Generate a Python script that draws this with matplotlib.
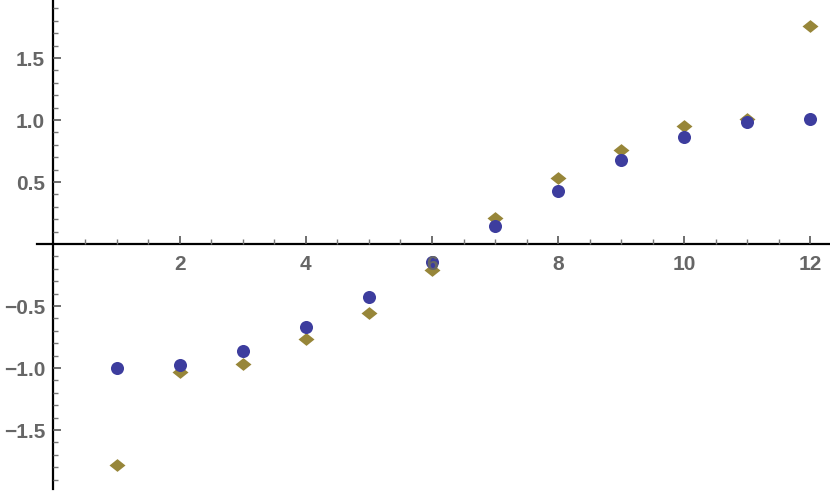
import matplotlib
matplotlib.use("Agg")
import matplotlib.pyplot as plt
from matplotlib.path import Path

# --- данные ---
x_vals = [1, 2, 3, 4, 5, 6, 7, 8, 9, 10, 11, 12]
circle_vals = [-0.997, -0.976, -0.86, -0.672, -0.427, -0.145,
               0.148, 0.43, 0.677, 0.865, 0.981, 1.008]
diamond_vals = [-1.782, -1.03, -0.97, -0.769, -0.554, -0.21,
                0.207, 0.535, 0.758, 0.952, 1.008, 1.76]

x_major = [2, 4, 6, 8, 10, 12]
x_labels = ["2", "4", "6", "8", "10", "12"]
y_major = [-1.5, -1.0, -0.5, 0.5, 1.0, 1.5]
y_labels = ["\u22121.5", "\u22121.0", "\u22120.5", "0.5", "1.0", "1.5"]

BLUE = "#3d3d9e"
GOLD = "#978639"
LABEL = "#666666"

plt.rcParams["font.family"] = ["Liberation Sans", "DejaVu Sans"]

fig = plt.figure(figsize=(8.3, 4.94), dpi=100)
ax = fig.add_axes([0, 0, 1, 1])
ax.set_xlim(-0.848, 12.31)
ax.set_ylim(-2.016, 1.968)
ax.set_axisbelow(False)  # подписи поверх точек, как в оригинале

# оси через ноль, как в Mathematica
for side in ("top", "right"):
    ax.spines[side].set_visible(False)
ax.spines["left"].set_position(("data", 0))
ax.spines["bottom"].set_position(("data", 0))
ax.spines["left"].set_bounds(-1.976, 1.968)
ax.spines["bottom"].set_bounds(-0.26, 12.31)
for side in ("left", "bottom"):
    ax.spines[side].set_linewidth(1.6)
    ax.spines[side].set_color("black")

# приплюснутый ромб
diamond = Path([(-1, 0), (0, 0.8), (1, 0), (0, -0.8), (-1, 0)],
               [Path.MOVETO, Path.LINETO, Path.LINETO, Path.LINETO, Path.CLOSEPOLY])

ax.plot(x_vals, diamond_vals, linestyle="none", marker=diamond,
        markersize=11.5, color=GOLD, markeredgewidth=0, zorder=2)
ax.plot(x_vals, circle_vals, linestyle="none", marker="o",
        markersize=9.4, color=BLUE, markeredgewidth=0, zorder=2.1)

ax.set_xticks(x_major, x_labels)
ax.set_xticks([v * 0.5 for v in range(1, 25) if v % 4 != 0], minor=True)
ax.set_yticks(y_major, y_labels)
ax.set_yticks([v / 10 for v in range(-19, 20) if v != 0 and v % 5 != 0], minor=True)

ax.tick_params(which="major", direction="in", length=6, width=1.2, color="#555555",
               labelsize=15, labelcolor=LABEL)
ax.tick_params(which="minor", direction="in", length=3.5, width=1.0, color="#777777")
ax.tick_params(axis="x", which="major", pad=8)
ax.tick_params(axis="y", which="major", pad=6)
for lab in ax.get_xticklabels() + ax.get_yticklabels():
    lab.set_fontweight("bold")

fig.savefig("out.png", dpi=100)
